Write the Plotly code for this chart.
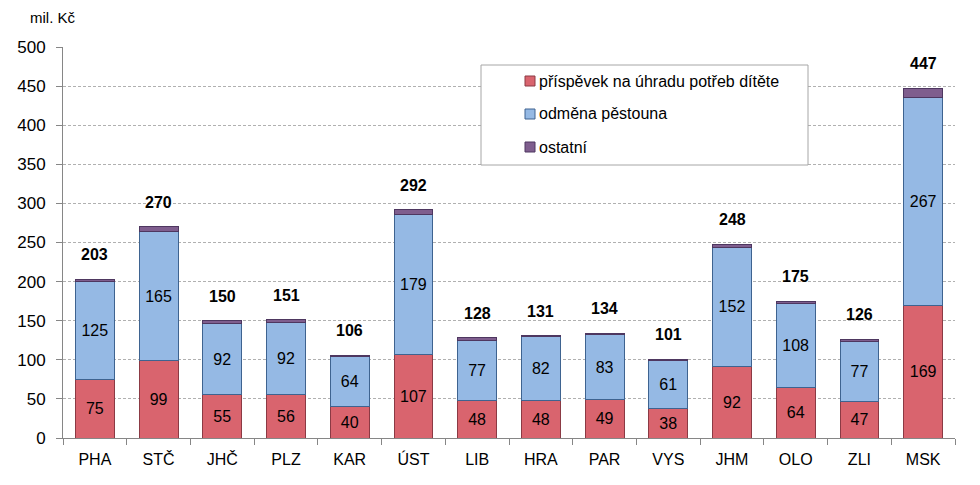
import plotly.graph_objects as go

categories = ["PHA", "STČ", "JHČ", "PLZ", "KAR", "ÚST", "LIB", "HRA", "PAR", "VYS", "JHM", "OLO", "ZLI", "MSK"]
prispevek = [75, 99, 55, 56, 40, 107, 48, 48, 49, 38, 92, 64, 47, 169]
odmena = [125, 165, 92, 92, 64, 179, 77, 82, 83, 61, 152, 108, 77, 267]
ostatni = [3, 6, 3, 3, 2, 6, 3, 1.5, 2, 2, 4, 3, 2, 11]
totals = [203, 270, 150, 151, 106, 292, 128, 131, 134, 101, 248, 175, 126, 447]

series_names = ["příspěvek na úhradu potřeb dítěte", "odměna pěstouna", "ostatní"]
colors = ["#D9646E", "#95B9E4", "#7F5E8E"]
edges = ["#8B3A44", "#3E6390", "#4E3760"]

font = "Liberation Sans, Arial, sans-serif"
W, H = 980, 485
L, R, T, B = 63, 25, 47, 47
PW, PH = W - L - R, H - T - B

def px(x):
    return (x - L) / PW

def py(y):
    return (H - B - y) / PH

fig = go.Figure()
for vals, name, c, e, lab in [(prispevek, series_names[0], colors[0], edges[0], True),
                              (odmena, series_names[1], colors[1], edges[1], True),
                              (ostatni, series_names[2], colors[2], edges[2], False)]:
    fig.add_trace(go.Bar(x=categories, y=vals, name=name, showlegend=False,
                         marker=dict(color=c, line=dict(color=e, width=1)),
                         text=vals if lab else None, textposition="inside" if lab else "none",
                         insidetextanchor="middle",
                         textfont=dict(size=16, color="black", family=font)))

annotations = [dict(x=c, y=t, text=f"<b>{t}</b>", showarrow=False, yanchor="bottom", yshift=14,
                    font=dict(size=16, family=font, color="black"))
               for c, t in zip(categories, totals)]
annotations.append(dict(text="mil. Kč", xref="paper", yref="paper", x=px(28), y=py(18), xanchor="left",
                        yanchor="middle", showarrow=False, font=dict(size=15, family=font)))

shapes = [dict(type="rect", xref="paper", yref="paper", x0=px(481), x1=px(808), y0=py(165), y1=py(65),
               line=dict(color="#A6A6A6", width=1), fillcolor="white", layer="above")]
item_y = [81, 114, 147]
for name, c, e, yy in zip(series_names, colors, edges, item_y):
    shapes.append(dict(type="rect", xref="paper", yref="paper", x0=px(525), x1=px(535), y0=py(yy + 5), y1=py(yy - 5),
                       line=dict(color=e, width=1), fillcolor=c, layer="above"))
    annotations.append(dict(text=name, xref="paper", yref="paper", x=px(537), y=py(yy), xanchor="left",
                            yanchor="middle", showarrow=False, font=dict(size=16, family=font, color="black")))

fig.update_layout(
    barmode="stack",
    bargap=0.39,
    width=W, height=H,
    margin=dict(l=L, r=R, t=T, b=B),
    plot_bgcolor="white", paper_bgcolor="white",
    font=dict(family=font, size=16, color="black"),
    showlegend=False,
    annotations=annotations,
    shapes=shapes,
)
fig.update_xaxes(showline=True, linecolor="#868686", ticks="outside", tickson="boundaries", tickcolor="#868686",
                 ticklen=6, tickfont=dict(size=16), showgrid=False, ticklabelstandoff=7)
fig.update_yaxes(range=[0, 500], dtick=50, showline=True, linecolor="#868686", ticks="outside", tickcolor="#868686",
                 ticklen=6, gridcolor="#B0B0B0", griddash="3px,2px", gridwidth=1, tickfont=dict(size=17),
                 zeroline=False, ticklabelstandoff=7)

fig.write_html("out.html", config={"displayModeBar": False},
               post_script="document.body.style.margin='0';document.body.style.overflow='hidden';")
